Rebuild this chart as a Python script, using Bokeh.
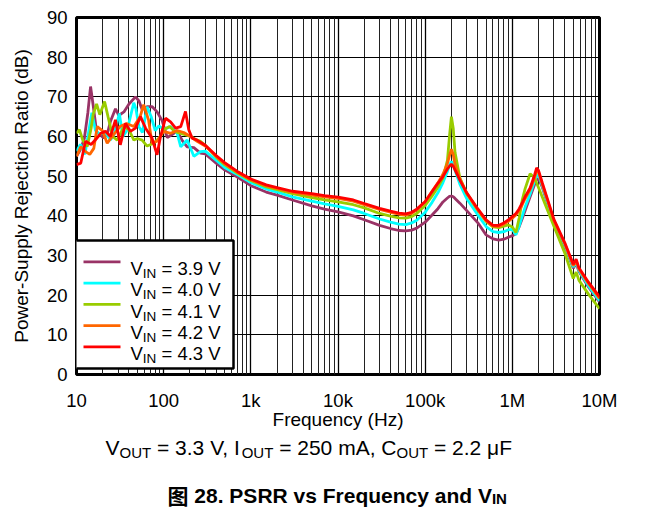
from bokeh.plotting import figure
from bokeh.models import FixedTicker, Label, BoxAnnotation, Range1d
from bokeh.layouts import column
from bokeh.core.properties import value
from bokeh.embed import file_html
from bokeh.resources import INLINE

# ---------------- data ----------------
SERIES_NAMES = ["3.9", "4.0", "4.1", "4.2", "4.3"]
COLORS = ["#993366", "#00FFFF", "#99CC00", "#FF6600", "#FF0000"]

X_TICKS = [10, 100, 1000, 10000, 100000, 1000000, 10000000]
X_TICK_LABELS = ["10", "100", "1k", "10k", "100k", "1M", "10M"]
Y_TICKS = [0, 10, 20, 30, 40, 50, 60, 70, 80, 90]

# low-frequency (noisy) part, per series
F_LO_39 = [10, 11, 12.3, 13.5, 14.5, 15.5, 17, 18.5, 20.5, 22.5, 24.5, 28, 30.5, 35, 40, 47.5, 52, 56.6, 64.5, 74,
           84, 96, 110, 125, 143, 163, 186, 222, 264]
DB_LO_39 = [55.0, 56.5, 59.5, 66.0, 72.6, 68.0, 61.2, 60.5, 59.6, 60.5, 63.8, 67.0, 65.3, 66.2, 68.2, 70.0, 69.0, 66.8, 67.5, 67.5,
            66.2, 64.0, 59.7, 60.5, 61.4, 59.0, 57.4, 57.2, 55.8]

F_LO_40 = [10, 11.1, 12.5, 13.5, 15, 16.5, 18.5, 21, 24.5, 27, 31, 34, 38, 45.4, 48, 52, 57, 64.6, 72, 80,
           88, 100, 120, 143, 157, 186, 222, 264]
DB_LO_40 = [56.3, 58.0, 55.5, 60.0, 66.0, 61.5, 60.5, 61.2, 59.1, 60.5, 65.8, 60.0, 61.5, 68.5, 67.0, 62.5, 61.0, 67.5, 65.0, 61.5,
            62.7, 61.8, 62.5, 60.8, 57.4, 59.1, 55.0, 56.2]

F_LO_41 = [10, 10.8, 11.8, 13.3, 14.7, 15.5, 17, 18.5, 21, 23, 26, 29.3, 35, 40, 45.5, 50, 56.6, 64.5, 77, 92,
           100, 117, 135, 157, 180, 203, 230, 264]
DB_LO_41 = [60.8, 61.7, 59.1, 57.5, 62.0, 65.5, 68.2, 65.5, 68.8, 65.0, 60.0, 59.1, 62.5, 61.7, 59.1, 59.5, 59.1, 57.6, 58.3, 60.0,
            61.7, 62.5, 61.2, 60.8, 60.4, 60.0, 59.3, 58.8]

F_LO_42 = [10, 11.2, 12.7, 14.2, 15.8, 17.3, 19.8, 22.5, 26.5, 31.5, 37.5, 45.5, 53.7, 59, 67, 73.5, 84, 100, 120, 143,
           170, 203, 242]
DB_LO_42 = [55.0, 57.4, 56.2, 55.5, 57.0, 62.5, 61.5, 58.3, 60.4, 62.5, 63.3, 62.5, 65.0, 68.0, 64.2, 58.3, 58.8, 61.3, 60.8, 61.5,
            61.0, 60.0, 58.8]

F_LO_43 = [10, 11.2, 12.7, 14.7, 16.7, 19, 21.5, 24.5, 28, 31.8, 36.5, 41.6, 47.5, 54.2, 62, 73.5, 84, 92, 105, 120,
           137, 157, 178, 194, 212, 242]
DB_LO_43 = [52.9, 53.3, 58.8, 58.0, 59.3, 60.8, 61.3, 60.0, 64.2, 57.9, 63.3, 61.3, 62.1, 65.0, 62.1, 59.6, 55.4, 60.0, 64.6, 63.7,
            62.1, 62.5, 66.3, 61.7, 59.6, 59.1]

# upper part, common frequency grid (Hz)
F_HI = [300, 400, 500, 700,
        1e3, 1.5e3, 2e3, 3e3, 5e3, 7e3,
        1e4, 1.5e4, 2e4, 3e4, 4e4, 5e4, 6e4, 7e4, 8e4,
        1e5, 1.2e5, 1.4e5, 1.6e5, 1.8e5, 1.9e5, 2e5, 2.1e5, 2.2e5, 2.5e5, 3e5, 4e5, 5e5, 6e5, 7e5, 8e5, 9e5,
        1e6, 1.1e6, 1.2e6, 1.3e6, 1.4e6, 1.6e6, 1.8e6, 1.9e6, 2e6, 2.2e6, 2.5e6, 3e6, 4e6, 5e6, 5.4e6, 5.8e6, 7.5e6, 1e7]

DB_HI_39 = [55.6, 53.3, 51.6, 49.8,
            47.6, 46.0, 45.2, 44.0, 42.5, 41.7,
            41.0, 40.0, 39.0, 37.6, 36.8, 36.3, 36.2, 36.4, 36.9,
            38.4, 40.2, 41.8, 43.5, 44.5, 44.9, 45.0, 44.8, 44.4, 43.2, 41.3, 38.3, 35.2, 34.2, 33.9, 34.1, 34.6,
            35.0, 35.5, 37.3, 39.3, 41.3, 44.8, 47.9, 49.2, 49.4, 47.3, 43.5, 38.3, 32.3, 26.8, 28.0, 26.0, 22.0, 18.3]
DB_HI_40 = [56.3, 54.0, 52.2, 50.4,
            48.4, 46.8, 46.0, 44.8, 43.7, 43.0,
            42.4, 41.5, 40.6, 39.2, 38.4, 37.9, 37.8, 38.2, 38.9,
            40.9, 43.4, 45.8, 48.4, 51.2, 52.8, 53.7, 53.0, 51.5, 48.0, 44.3, 40.3, 37.3, 36.0, 35.8, 36.0, 36.5,
            36.6, 35.2, 37.5, 40.0, 42.2, 45.5, 48.8, 50.2, 50.3, 47.7, 43.8, 38.5, 32.6, 27.1, 28.3, 26.3, 22.3, 18.6]
DB_HI_41 = [57.8, 54.8, 52.9, 50.8,
            48.9, 47.3, 46.6, 45.6, 44.6, 44.0,
            43.5, 42.8, 42.0, 40.6, 39.9, 39.5, 39.4, 39.8, 40.6,
            42.6, 45.0, 47.2, 49.5, 54.0, 60.0, 65.0, 62.0, 56.0, 49.6, 45.6, 41.5, 38.6, 37.2, 37.0, 37.4, 37.7,
            37.2, 35.8, 39.5, 44.0, 46.8, 50.6, 49.6, 48.3, 47.1, 44.8, 41.7, 37.4, 30.6, 24.2, 25.8, 23.8, 20.2, 16.6]
DB_HI_42 = [57.6, 55.0, 53.2, 51.0,
            49.1, 47.6, 46.9, 46.0, 45.2, 44.8,
            44.4, 43.7, 42.8, 41.6, 40.9, 40.4, 40.2, 40.6, 41.5,
            43.5, 46.2, 48.3, 50.5, 53.2, 55.2, 56.8, 55.4, 53.0, 49.3, 45.7, 41.6, 38.8, 37.4, 37.3, 37.9, 38.6,
            39.4, 40.2, 41.4, 42.8, 44.3, 46.6, 49.6, 51.4, 51.0, 48.0, 44.2, 38.8, 32.9, 27.4, 28.6, 26.6, 22.9, 19.2]
DB_HI_43 = [57.8, 55.2, 53.4, 51.2,
            49.3, 47.8, 47.1, 46.2, 45.6, 45.1,
            44.7, 44.0, 43.1, 41.9, 41.2, 40.7, 40.5, 40.9, 41.7,
            43.6, 46.1, 48.2, 49.9, 51.8, 52.5, 53.0, 52.5, 51.6, 49.0, 45.8, 41.8, 39.0, 37.6, 37.6, 38.2, 39.0,
            39.8, 40.6, 41.8, 43.3, 44.8, 47.0, 50.3, 52.1, 51.4, 48.4, 44.6, 39.1, 33.2, 27.8, 29.1, 26.9, 23.2, 19.6]

SERIES = [
    (F_LO_39 + F_HI, DB_LO_39 + DB_HI_39),
    (F_LO_40 + F_HI, DB_LO_40 + DB_HI_40),
    (F_LO_41 + F_HI, DB_LO_41 + DB_HI_41),
    (F_LO_42 + F_HI, DB_LO_42 + DB_HI_42),
    (F_LO_43 + F_HI, DB_LO_43 + DB_HI_43),
]

CAPTION_PIECES = [("V", "main"), ("OUT", "sub"), (" = 3.3 V, I", "main"), ("OUT", "sub"),
                  (" = 250 mA, C", "main"), ("OUT", "sub"), (" = 2.2 \u03bcF", "main")]
TITLE_PIECES = [("\u56fe", "cjk"), (" 28. PSRR vs Frequency and V", "main"), ("IN", "sub")]

# ---------------- layout constants ----------------
FONT = "Liberation Sans"
CJK = "Noto Sans CJK SC"
W = 646
MAIN_H = 432     # main figure: page y 0 .. 432
CAP_H = 77       # caption strip below it
FL, FR = 76, 599  # frame left/right in page pixels
CAP_SHIFT = -8.5  # measured offset correction of the caption strip

# ---------------- main figure ----------------
p = figure(width=W, height=MAIN_H, x_axis_type="log",
           x_range=Range1d(10, 1e7), y_range=Range1d(0, 90),
           output_backend="svg", toolbar_location=None, title_location=None,
           min_border_left=FL, min_border_right=W - FR, min_border_top=17, min_border_bottom=56)
p.background_fill_color = "white"
p.border_fill_color = "white"
p.outline_line_color = "black"
p.outline_line_width = 3

minor = []
for d in X_TICKS[:-1]:
    for k in range(2, 10):
        minor.append(d * k)
xt = FixedTicker(ticks=X_TICKS, minor_ticks=minor)
p.xaxis.ticker = xt
p.xgrid.ticker = xt
p.yaxis.ticker = FixedTicker(ticks=Y_TICKS)
p.ygrid.ticker = FixedTicker(ticks=Y_TICKS)

p.xgrid.grid_line_color = "black"
p.xgrid.grid_line_width = 1.3
p.xgrid.minor_grid_line_color = "#222222"
p.xgrid.minor_grid_line_width = 1
p.ygrid.grid_line_color = "black"
p.ygrid.grid_line_width = 1.2

p.xaxis.major_label_overrides = {float(t): lab for t, lab in zip(X_TICKS, X_TICK_LABELS)}
p.yaxis.major_label_overrides = {float(t): str(t) for t in Y_TICKS}

for ax in (p.xaxis, p.yaxis):
    ax.axis_line_color = None
    ax.major_tick_line_color = None
    ax.minor_tick_line_color = None
    ax.major_tick_in = 0
    ax.major_tick_out = 0
    ax.minor_tick_in = 0
    ax.minor_tick_out = 0
    ax.major_label_text_font = FONT
    ax.major_label_text_font_size = "18.5px"
    ax.major_label_text_color = "black"
    ax.axis_label_text_font = FONT
    ax.axis_label_text_font_size = "19px"
    ax.axis_label_text_font_style = "normal"
    ax.axis_label_text_color = "black"

p.xaxis.axis_label = "Frequency (Hz)"
p.yaxis.axis_label = "Power-Supply Rejection Ratio (dB)"
p.xaxis.major_label_standoff = 15
p.xaxis.axis_label_standoff = -5
p.yaxis.major_label_standoff = 9
p.yaxis.axis_label_standoff = 12

for (f, db), c in zip(SERIES, COLORS):
    p.line(f, db, line_color=c, line_width=2.8)

# ---------------- text metrics (Arial / Liberation Sans advance widths) ----------------
REG = {' ': 278, '=': 584, '.': 278, ',': 278, 'V': 667, 'I': 278, 'N': 722, 'O': 778,
       'U': 722, 'T': 611, 'C': 722, 'm': 833, 'A': 667, '\u03bc': 576, 'F': 611}
BOLD = {' ': 278, '.': 278, 'P': 667, 'S': 667, 'R': 722, 'v': 556, 's': 556, 'F': 611, 'r': 389,
        'e': 556, 'q': 611, 'u': 611, 'n': 611, 'c': 556, 'y': 556, 'a': 556, 'd': 611, 'V': 667,
        'I': 278, 'N': 722, '\u56fe': 1000}
for ch in "0123456789":
    REG[ch] = 556
    BOLD[ch] = 556


def width(text, size, bold):
    tab = BOLD if bold else REG
    return sum(tab.get(ch, 556) for ch in text) * size / 1000.0


# ---------------- legend (inside the frame; frame-relative screen units) ----------------
p.add_layout(BoxAnnotation(left=-3, right=157, bottom=6, top=134,
                           left_units="screen", right_units="screen",
                           bottom_units="screen", top_units="screen",
                           fill_color="white", fill_alpha=1.0,
                           line_color="black", line_width=2.5, line_alpha=1.0))
for i, (name, c) in enumerate(zip(SERIES_NAMES, COLORS)):
    yl = 112.7 - 21.25 * i
    p.add_layout(BoxAnnotation(left=7, right=44, bottom=yl - 1.4, top=yl + 1.4,
                               left_units="screen", right_units="screen",
                               bottom_units="screen", top_units="screen",
                               fill_color=c, fill_alpha=1.0, line_color=None))
    x = 54
    yb = 106 - 21.25 * i
    for text, size, dy in [("V", 18.5, 0), ("IN", 13.5, 5), (" = " + name + " V", 18.5, 0)]:
        lead = len(text) - len(text.lstrip(" "))
        x += width(" " * lead, size, False)
        t = text.strip(" ")
        p.add_layout(Label(x=x, y=yb - dy, x_units="screen", y_units="screen", text=t,
                           text_font=FONT, text_font_size=f"{size}px", text_color="black",
                           text_align="left", text_baseline="alphabetic"))
        x += width(t, size, False)

# ---------------- caption strip (x in page pixels, y downwards from strip top) ----------------
cap = figure(width=W, height=CAP_H, x_range=Range1d(FL, FR), y_range=Range1d(CAP_H, 0),
             output_backend="svg", toolbar_location=None, title_location=None,
             min_border_left=FL, min_border_right=W - FR, min_border_top=0, min_border_bottom=0,
             x_axis_location=None, y_axis_location=None)
cap.grid.visible = False
cap.outline_line_color = None
cap.background_fill_color = "white"
cap.border_fill_color = "white"


def place(fig, pieces, x0, yb, sizes):
    x = x0
    for text, kind in pieces:
        size, dy, bold, font = sizes[kind]
        lead = len(text) - len(text.lstrip(" "))
        x += width(" " * lead, size, bold)
        t = text.strip(" ")
        fig.text(x=[x], y=[yb + dy], text=[t], text_font=value(font),
                 text_font_size=value(f"{size}px"),
                 text_font_style=value("bold" if bold else "normal"),
                 text_color="black", text_align=value("left"), text_baseline=value("alphabetic"))
        x += width(t, size, bold)


Y0 = MAIN_H
place(cap, CAPTION_PIECES, 105, 455 - Y0 + CAP_SHIFT,
      {"main": (21, 0, False, FONT), "sub": (15, 5, False, FONT)})
place(cap, TITLE_PIECES, 167, 503 - Y0 + CAP_SHIFT,
      {"cjk": (21, 0, True, CJK), "main": (21, 0, True, FONT), "sub": (15, 3.5, True, FONT)})

layout = column(p, cap)
open("out.html", "w").write(file_html(layout, INLINE))
